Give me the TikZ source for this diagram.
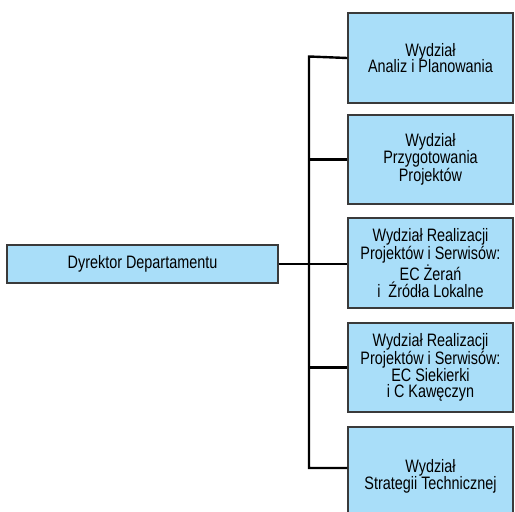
\documentclass[tikz,border=0pt]{standalone}
\usepackage{fontspec}
\setmainfont{Liberation Sans}[FakeStretch=0.8]
\definecolor{boxfill}{HTML}{A9DEF9}
\definecolor{boxline}{HTML}{3A3A3A}
\begin{document}
\begin{tikzpicture}[x=1pt,y=-1pt,
  unitbox/.style={draw=boxline,fill=boxfill,line width=1.4pt,minimum width=165pt,
    inner sep=0pt,align=center,font=\fontsize{18}{16.8}\selectfont},
  conn/.style={line width=2.4pt,black}]
\useasboundingbox (0,0) rectangle (515,512);
\node[unitbox,minimum width=271pt,minimum height=38pt] (dir) at (142.5,264) {Dyrektor Departamentu};
\node[unitbox,minimum height=90pt] (b1) at (430.5,58) {Wydział\\Analiz i Planowania};
\node[unitbox,minimum height=89pt] (b2) at (430.5,159.5) {Wydział\\Przygotowania\\Projektów};
\node[unitbox,minimum height=90pt] (b3) at (430.5,263) {Wydział Realizacji\\Projektów i Serwisów:\\EC Żerań\\i\ \ Źródła Lokalne};
\node[unitbox,minimum height=89pt] (b4) at (430.5,367.5) {Wydział Realizacji\\Projektów i Serwisów:\\EC Siekierki\\i C Kawęczyn};
\node[unitbox,minimum height=98pt] (b5) at (430.5,476) {Wydział\\Strategii Technicznej};
\coordinate (top) at (309,56.5);
\coordinate (bot) at (309,468);
\coordinate (b5in) at (b5.west |- bot);
\draw[conn] (b1.west) -- (top) -- (bot) -- (b5in);
\draw[conn] (dir.east) -- (b3.west |- dir.east);
\draw[conn] (b2.west) -- (b2.west -| top);
\draw[conn] (b4.west) -- (b4.west -| top);
\end{tikzpicture}
\end{document}
